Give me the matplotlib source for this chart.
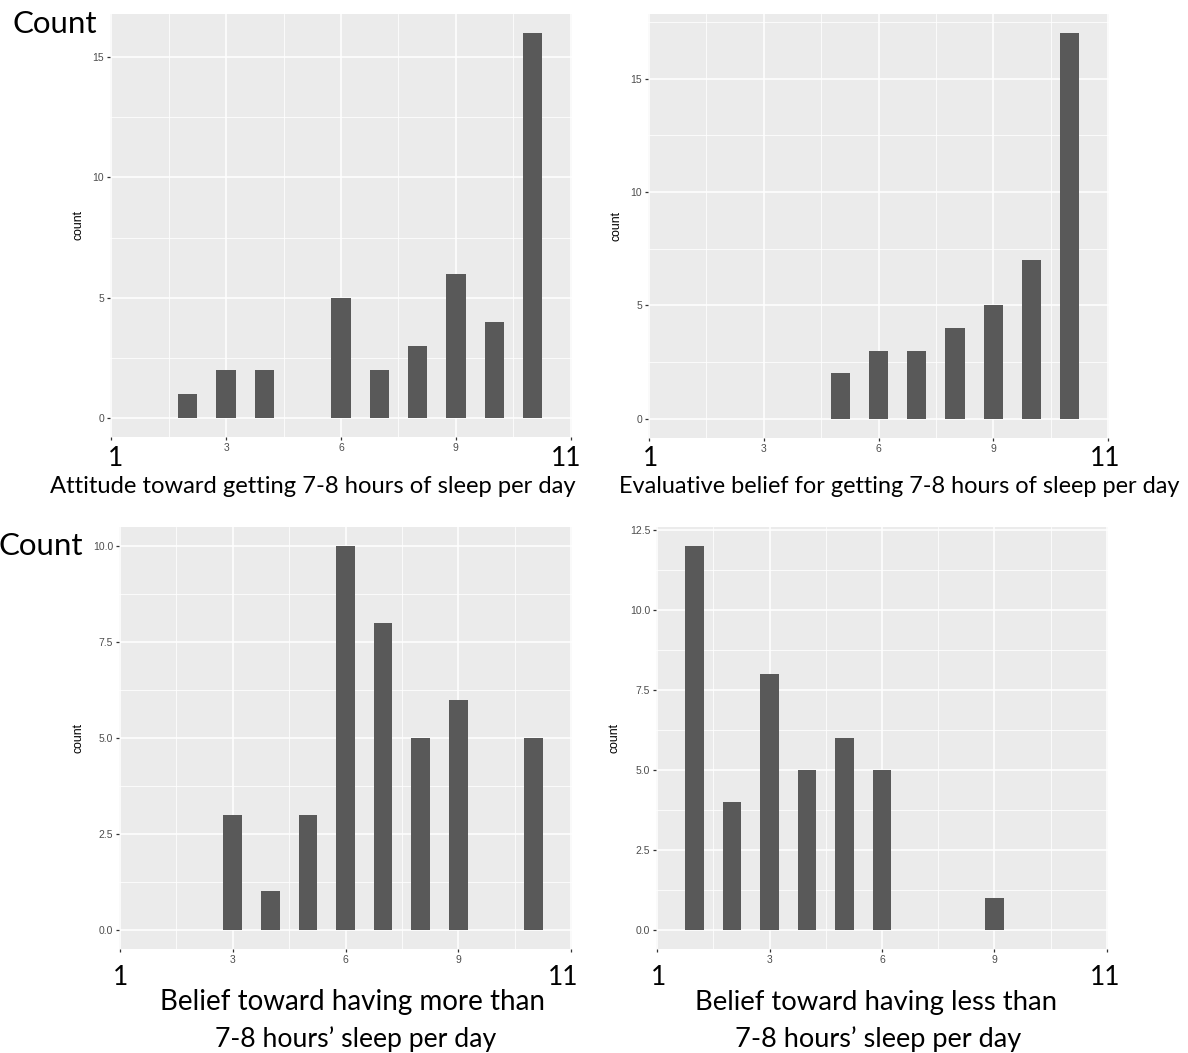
import matplotlib
matplotlib.use('Agg')
import matplotlib.pyplot as plt
from matplotlib.ticker import FixedLocator

W, H, DPI = 1188, 1053, 100

# ---------------- data ----------------
att_x = [2, 3, 4, 6, 7, 8, 9, 10, 11]
att_n = [1, 2, 2, 5, 2, 3, 6, 4, 16]
eva_x = [5, 6, 7, 8, 9, 10, 11]
eva_n = [2, 3, 3, 4, 5, 7, 17]
more_x = [3, 4, 5, 6, 7, 8, 9, 11]
more_n = [3, 1, 3, 10, 8, 5, 6, 5]
less_x = [1, 2, 3, 4, 5, 6, 9]
less_n = [12, 4, 8, 5, 6, 5, 1]

x_ticks = [0, 3, 6, 9, 12]
x_tick_labels = ['', '3', '6', '9', '']
x_end_labels = ['1', '11']
y_ticks_top = [0, 5, 10, 15]
y_labels_top = ['0', '5', '10', '15']
y_ticks_more = [0, 2.5, 5, 7.5, 10]
y_labels_more = ['0.0', '2.5', '5.0', '7.5', '10.0']
y_ticks_less = [0, 2.5, 5, 7.5, 10, 12.5]
y_labels_less = ['0.0', '2.5', '5.0', '7.5', '10.0', '12.5']

titles = [
    ['Attitude toward getting 7-8 hours of sleep per day'],
    ['Evaluative belief for getting 7-8 hours of sleep per day'],
    ['Belief toward having more than', '7-8 hours\u2019 sleep per day'],
    ['Belief toward having less than', '7-8 hours\u2019 sleep per day'],
]

BAR = '#595959'
PANEL = '#EBEBEB'
BIGFONT = ['Lato', 'DejaVu Sans']
SMALLFONT = ['Liberation Sans', 'DejaVu Sans']

fig = plt.figure(figsize=(W / DPI, H / DPI), dpi=DPI)
fig.patch.set_facecolor('white')
renderer = fig.canvas.get_renderer()


def fx(x):
    return x / W


def fy(y):
    return 1 - y / H


# panel rectangles in pixels: left, top, right, bottom
rects = [(110, 14, 572, 437), (648, 14, 1109, 438),
         (119, 527, 572, 949), (656, 527, 1108, 949)]
series = [(att_x, att_n, y_ticks_top, y_labels_top),
          (eva_x, eva_n, y_ticks_top, y_labels_top),
          (more_x, more_n, y_ticks_more, y_labels_more),
          (less_x, less_n, y_ticks_less, y_labels_less)]
ylabel_x = [79, 617, 79, 614]

axes = []
for (l, t, r, b), (xs, ns, yt, yl), ylx in zip(rects, series, ylabel_x):
    ax = fig.add_axes([fx(l), fy(b), (r - l) / W, (b - t) / H])
    ax.set_facecolor(PANEL)
    ax.bar(xs, ns, width=0.5, color=BAR, zorder=3)
    top = max(ns)
    ax.set_ylim(-0.05 * top, 1.05 * top)
    ax.set_xlim(-0.03, 12.03)
    ax.set_xticks(x_ticks)
    ax.set_xticklabels(x_tick_labels)
    ax.set_yticks(yt)
    ax.set_yticklabels(yl)
    ax.xaxis.set_minor_locator(FixedLocator([1.5, 4.5, 7.5, 10.5]))
    step = yt[1] - yt[0]
    ax.yaxis.set_minor_locator(FixedLocator([v + step / 2 for v in yt]))
    ax.grid(which='major', color='white', linewidth=1.1, zorder=0)
    ax.grid(which='minor', color='white', linewidth=0.55, zorder=0)
    ax.set_axisbelow(True)
    for s in ax.spines.values():
        s.set_visible(False)
    ax.tick_params(which='major', length=2.2, width=0.9, color='#333333',
                   labelsize=7.5, labelcolor='#4D4D4D', pad=2)
    ax.tick_params(which='minor', length=0)
    for lab in ax.get_xticklabels() + ax.get_yticklabels():
        lab.set_family(SMALLFONT)
    fig.text(fx(ylx), fy((t + b) / 2), 'count', rotation=90, ha='center',
             va='center', fontsize=8.8, family=SMALLFONT, color='black')
    axes.append(ax)


def fit_text(cx, base_y, s, width_px, ha='center'):
    txt = fig.text(fx(cx), fy(base_y), s, fontsize=20, ha=ha, va='baseline',
                   family=BIGFONT, color='black')
    bb = txt.get_window_extent(renderer)
    txt.set_fontsize(20 * width_px / bb.width)
    return txt


# big "Count" labels
fit_text(12, 33, 'Count', 85, ha='left')
fit_text(-2, 555, 'Count', 85, ha='left')

# end labels "1" and "11"
end_pos = [((116, 566), 466), ((651, 1105), 466),
           ((121, 563), 985), ((659, 1105), 985)]
for (x1, x2), by in end_pos:
    fig.text(fx(x1), fy(by), x_end_labels[0], fontsize=19, ha='center',
             va='baseline', family=BIGFONT)
    fig.text(fx(x2), fy(by), x_end_labels[1], fontsize=19, ha='center',
             va='baseline', family=BIGFONT)

# axis titles
fit_text(313, 493, titles[0][0], 527)
fit_text(899, 493, titles[1][0], 562)
fit_text(353, 1010, titles[2][0], 385)
fit_text(356, 1047, titles[2][1], 282)
fit_text(876, 1010, titles[3][0], 363)
fit_text(878, 1047, titles[3][1], 287)

fig.savefig('out.png', dpi=DPI, facecolor='white')
